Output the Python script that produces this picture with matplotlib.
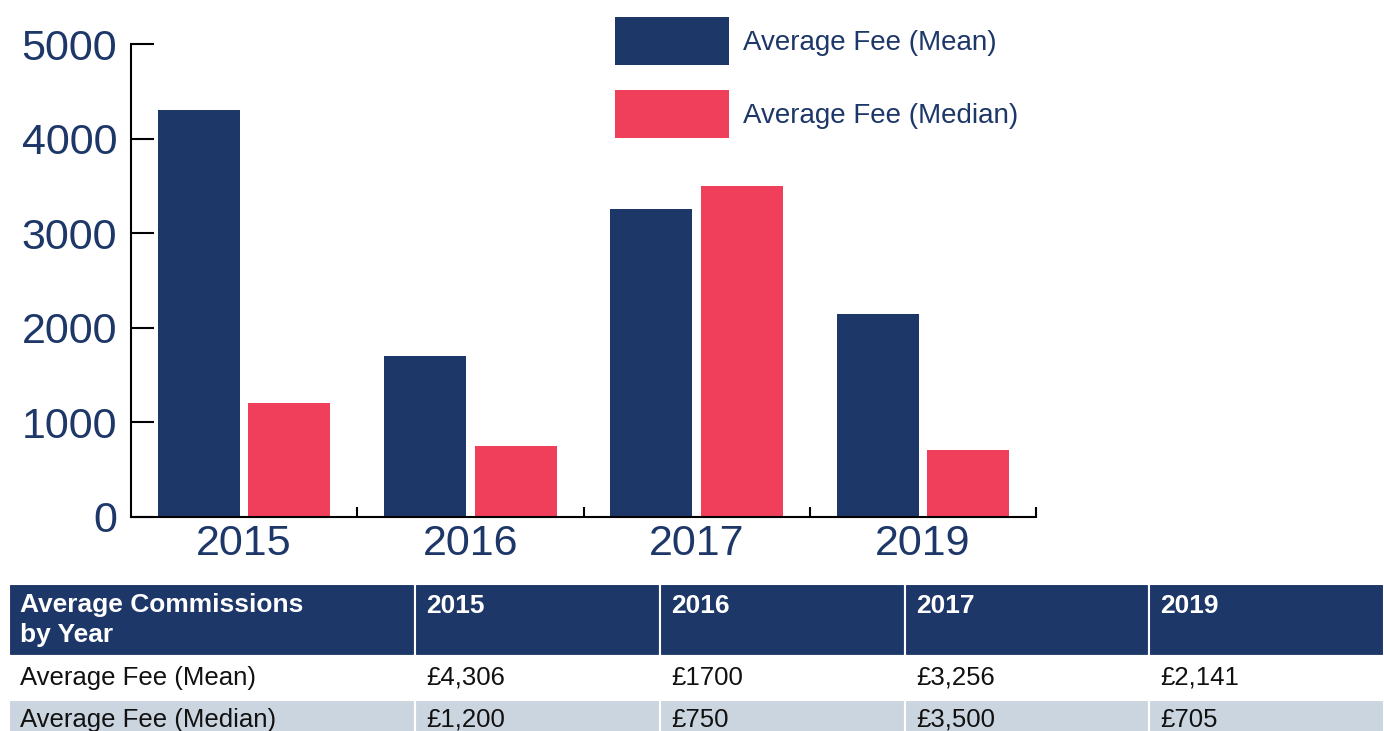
import numpy as np
import matplotlib.pyplot as plt

years = ["2015", "2016", "2017", "2019"]
mean_fee = [4306, 1700, 3256, 2141]
median_fee = [1200, 750, 3500, 705]
mean_text = ["£4,306", "£1700", "£3,256", "£2,141"]
median_text = ["£1,200", "£750", "£3,500", "£705"]
series = ["Average Fee (Mean)", "Average Fee (Median)"]
table_title = "Average Commissions\nby Year"

navy = "#1d3768"
red = "#f03f5b"
grey = "#cbd5e0"

plt.rcParams["font.family"] = ["Liberation Sans", "DejaVu Sans"]

W, H = 1384, 731
fig = plt.figure(figsize=(W / 100, H / 100), dpi=100)

# bar chart
ax = fig.add_axes([131 / W, (H - 517) / H, 905 / W, 473 / H])
x = np.arange(len(years))
ax.bar(x - 0.2, mean_fee, 0.363, color=navy, label=series[0])
ax.bar(x + 0.2, median_fee, 0.363, color=red, label=series[1])
ax.set_xlim(-0.5, len(years) - 0.5)
ax.set_ylim(0, 5000)
ax.set_yticks(range(0, 5001, 1000))
ax.set_xticks(x, years)
ax.set_xticks(x + 0.5, minor=True)
ax.tick_params(axis="y", direction="in", length=16.5, width=1.5,
               labelsize=31, labelcolor=navy, pad=10)
ax.tick_params(axis="x", which="major", length=0, labelsize=31,
               labelcolor=navy, pad=5)
ax.tick_params(axis="x", which="minor", direction="in", length=7, width=1.5)
ax.spines[["top", "right"]].set_visible(False)
ax.spines[["left", "bottom"]].set_linewidth(1.5)

leg = fig.legend(loc="upper left", bbox_to_anchor=(615 / W, 1 - 17 / H),
                 frameon=False, fontsize=20, handlelength=4.1, handleheight=2.28,
                 labelspacing=0.9, handletextpad=0.5, borderpad=0,
                 borderaxespad=0, labelcolor=navy)

# table underneath
tax = fig.add_axes([9 / W, -9 / H, (W - 9) / W, 156 / H])
tax.axis("off")
cells = [[table_title] + [y + "\n" for y in years],
         [series[0]] + mean_text,
         [series[1]] + median_text]
col_px = [406, 245, 245, 244, 235]
row_px = [72, 44, 40]
tbl = tax.table(cellText=cells, colWidths=list(np.array(col_px) / sum(col_px)),
                cellLoc="left", bbox=[0, 0, 1, 1])
tbl.auto_set_font_size(False)
for (r, c), cell in tbl.get_celld().items():
    cell.set_height(row_px[r])
    cell.set_edgecolor("white")
    cell.set_linewidth(1.5)
    cell.PAD = 11 / col_px[c]
    t = cell.get_text()
    if r == 0:
        cell.set_facecolor(navy)
        t.set_color("white")
        t.set_fontweight("bold")
        t.set_fontsize(19)
        if c == 0:
            t.set_linespacing(1.35)
    else:
        cell.set_facecolor("white" if r == 1 else grey)
        t.set_color("#111111")
        t.set_fontsize(18.5)

fig.savefig("out.png", dpi=100)
